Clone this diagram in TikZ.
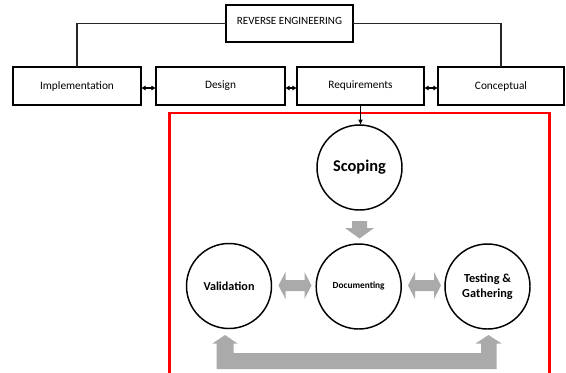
\documentclass[tikz,border=0pt]{standalone}
\usepackage{fontspec}
\setmainfont{Carlito}
\usetikzlibrary{arrows.meta}
\definecolor{blockgray}{RGB}{170,170,170}
\definecolor{framered}{RGB}{255,0,0}
\begin{document}
\begin{tikzpicture}[x=0.75pt,y=-0.75pt,
  every node/.style={inner sep=0pt,outer sep=0pt},
  topbox/.style={draw=black,line width=1.1pt,minimum height=27.75pt,text depth=4.5pt,font=\fontsize{8.3}{10}\selectfont},
  levelbox/.style={draw=black,line width=1.1pt,minimum height=28.5pt,font=\fontsize{8.5}{10}\selectfont},
  phase/.style={circle,draw=black,line width=1.1pt,minimum size=63.75pt,align=center},
  tree/.style={draw=black!85,line width=1.1pt},
  peer/.style={draw=black,line width=1pt,{Latex[length=3.5pt,width=4pt]}-{Latex[length=3.5pt,width=4pt]}},
  feed/.style={draw=black,line width=0.9pt,-{Latex[length=4pt,width=3.5pt]}},
  block/.style={fill=blockgray,draw=none}]
\useasboundingbox (0,0) rectangle (566,372);
\clip (0,0) rectangle (566,372);

% top level
\node[topbox,minimum width=95.25pt] (rev) at (289.5,23.5) {REVERSE ENGINEERING};

% abstraction levels
\node[levelbox,minimum width=96pt]    (impl)    at (77,86)    {Implementation};
\node[levelbox,minimum width=96.75pt] (design)  at (220.5,86) {Design};
\node[levelbox,minimum width=95.25pt] (req)     at (360.5,86) {Requirements};
\node[levelbox,minimum width=94.5pt]  (concept) at (501,86)   {Conceptual};

\draw[tree] (rev.west) -| (impl.north);
\draw[tree] (rev.east) -| (concept.north);

\draw[peer] ([yshift=-1.5pt]impl.east)   -- ([yshift=-1.5pt]design.west);
\draw[peer] ([yshift=-1.5pt]design.east) -- ([yshift=-1.5pt]req.west);
\draw[peer] ([yshift=-1.5pt]req.east)    -- ([yshift=-1.5pt]concept.west);

% requirements process frame
\draw[framered,line width=1.6pt] (169.5,113) rectangle (549.5,390);

\node[phase,font=\bfseries\fontsize{12.3}{14}\selectfont] (scope) at (359.5,167.5) {Scoping};
\node[phase,font=\bfseries\fontsize{7}{8}\selectfont] (doc) at (358.7,286.5) {Documenting};
\node[phase,font=\bfseries\fontsize{9.1}{11}\selectfont] (valid) at (229,286) {Validation};
\node[phase,font=\bfseries\fontsize{9.2}{11.25}\selectfont] (test) at (487.5,286.5) {Testing \&\\Gathering};

\draw[feed] (req.south) -- (req.south |- scope.north);

% block arrows
\path[block] (352,221) -- (367,221) -- (367,228) -- (374,228) -- (359.5,238.5)
  -- (345,228) -- (352,228) -- cycle;
\path[block] (278.5,285.5) -- (285.5,272) -- (285.5,280) -- (304.5,280) -- (304.5,272)
  -- (311.5,285.5) -- (304.5,299) -- (304.5,291) -- (285.5,291) -- (285.5,299) -- cycle;
\path[block] (408,285.5) -- (415,272) -- (415,280) -- (434,280) -- (434,272)
  -- (441,285.5) -- (434,299) -- (434,291) -- (415,291) -- (415,299) -- cycle;
\path[block] (216.5,369) -- (216.5,343.5) -- (212.5,343.5) -- (225,335) -- (237.5,343.5)
  -- (233.5,343.5) -- (233.5,353) -- (481,353) -- (481,343.5) -- (475.5,343.5)
  -- (488.5,335) -- (501.5,343.5) -- (496.5,343.5) -- (496.5,369) -- cycle;
\end{tikzpicture}
\end{document}
